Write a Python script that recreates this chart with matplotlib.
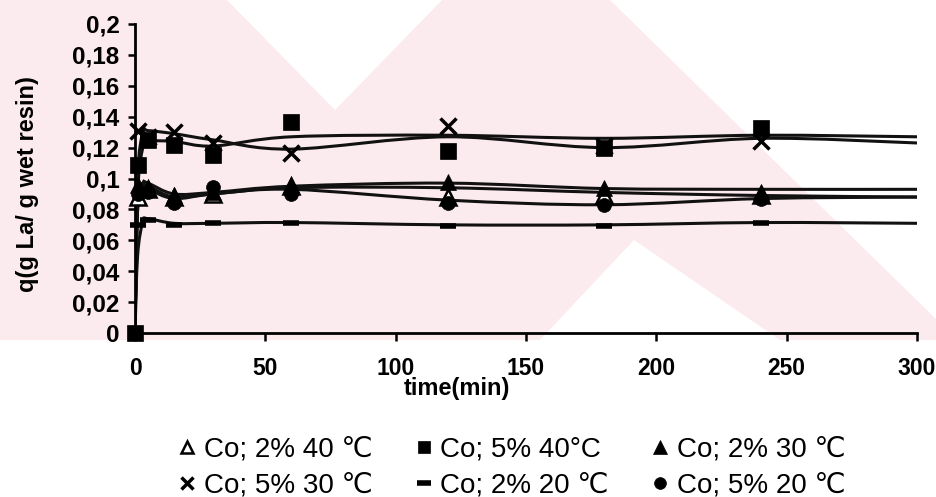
"""Uptake of La on Co-loaded resin versus contact time."""

import matplotlib

matplotlib.use("Agg")
import matplotlib.pyplot as plt
from matplotlib.lines import Line2D
from matplotlib.patches import PathPatch, Polygon, Rectangle
from matplotlib.path import Path
from matplotlib.ticker import FuncFormatter

W, H = 937, 497

# measured points
t_meas = [1, 5, 15, 30, 60, 120, 180, 240]
q_2pct_40 = [0.088, 0.093, 0.088, 0.090, 0.095, 0.088, 0.089, 0.089]
q_5pct_40 = [0.109, 0.125, 0.122, 0.115, 0.1366, 0.118, 0.120, 0.1327]
q_2pct_30 = [0.096, 0.094, 0.089, 0.091, 0.096, 0.098, 0.094, 0.091]
q_5pct_30 = [0.131, 0.127, 0.130, 0.123, 0.1165, 0.134, 0.121, 0.124]
q_2pct_20 = [0.070, 0.073, 0.070, 0.071, 0.0715, 0.069, 0.069, 0.071]
q_5pct_20 = [0.090, 0.091, 0.084, 0.0945, 0.090, 0.084, 0.083, 0.087]
t_zero = [0]
q_zero = [0.0]

# smoothed curves
t_curve = [0, 1, 3, 5, 15, 30, 60, 120, 180, 240, 300]
c_5pct_40 = [0, 0.090, 0.120, 0.124, 0.124, 0.121, 0.127, 0.128, 0.126, 0.128, 0.127]
c_5pct_30 = [0, 0.100, 0.130, 0.131, 0.129, 0.125, 0.119, 0.127, 0.120, 0.126, 0.123]
c_2pct_30 = [0, 0.085, 0.097, 0.097, 0.090, 0.091, 0.095, 0.097, 0.0935, 0.093, 0.093]
c_2pct_40 = [0, 0.080, 0.095, 0.095, 0.088, 0.090, 0.094, 0.094, 0.091, 0.089, 0.088]
c_5pct_20 = [0, 0.080, 0.093, 0.093, 0.087, 0.090, 0.093, 0.086, 0.083, 0.087, 0.088]
c_2pct_20 = [0, 0.050, 0.072, 0.074, 0.071, 0.071, 0.0715, 0.070, 0.070, 0.0715, 0.071]

labels = ["Co; 2% 40 \u2103", "Co; 5% 40\u00b0C", "Co; 2% 30 \u2103",
          "Co; 5% 30 \u2103", "Co; 2% 20 \u2103", "Co; 5% 20 \u2103"]

styles = [
    dict(marker="^", ms=11, mfc="white", mec="black", mew=1.8),
    dict(marker="s", ms=11, mfc="black", mec="black", mew=0.5),
    dict(marker="^", ms=12, mfc="black", mec="black", mew=0.5),
    dict(marker="x", ms=11, mfc="black", mec="black", mew=2.5),
    dict(marker="_", ms=12, mfc="black", mec="black", mew=4),
    dict(marker="o", ms=10, mfc="black", mec="black", mew=0.5),
]


def smooth_path(x, y):
    # Catmull-Rom segments written as cubic Bezier pieces
    pts = list(zip(x, y))
    verts = [pts[0]]
    codes = [Path.MOVETO]
    n = len(pts)
    for i in range(n - 1):
        p0 = pts[max(i - 1, 0)]
        p1 = pts[i]
        p2 = pts[i + 1]
        p3 = pts[min(i + 2, n - 1)]
        c1 = (p1[0] + (p2[0] - p0[0]) / 6, p1[1] + (p2[1] - p0[1]) / 6)
        c2 = (p2[0] - (p3[0] - p1[0]) / 6, p2[1] - (p3[1] - p1[1]) / 6)
        verts += [c1, c2, p2]
        codes += [Path.CURVE4] * 3
    return Path(verts, codes)


def px(points):
    return [(x / W, 1 - y / H) for x, y in points]


plt.rcParams["font.family"] = ["Liberation Sans", "DejaVu Sans"]
fig = plt.figure(figsize=(W / 100, H / 100), dpi=100)

# faint background stamp
pink = "#fcebee"
fig.add_artist(Rectangle((0, 1 - 340 / H), 1, 340 / H, transform=fig.transFigure,
                         facecolor=pink, edgecolor="none", zorder=0))
for shape in ([(227, 0), (442, 0), (335, 110)],
              [(540, 340), (780, 340), (634, 240)],
              [(610, 0), (937, 0), (937, 320)]):
    fig.add_artist(Polygon(px(shape), closed=True, transform=fig.transFigure,
                           facecolor="white", edgecolor="none", zorder=0))

ax = fig.add_axes([135 / W, 1 - 333 / H, 782 / W, 309 / H])
ax.patch.set_facecolor("none")

for curve in (c_2pct_40, c_5pct_40, c_2pct_30, c_5pct_30, c_2pct_20, c_5pct_20):
    ax.add_patch(PathPatch(smooth_path(t_curve, curve), facecolor="none",
                           edgecolor="#111111", lw=2.2, zorder=2))

series = [q_2pct_40, q_5pct_40, q_2pct_30, q_5pct_30, q_2pct_20, q_5pct_20]
for q, st in zip(series, styles):
    ax.plot(t_meas, q, ls="none", zorder=3, clip_on=False, **st)
ax.plot(t_zero, q_zero, ls="none", zorder=3, clip_on=False, **styles[1])

ax.set_xlim(0, 300)
ax.set_ylim(0, 0.2)
ax.set_xticks(range(0, 301, 50))
ax.set_yticks([i * 0.02 for i in range(11)])
ax.yaxis.set_major_formatter(FuncFormatter(lambda v, _: ("%g" % round(v, 2)).replace(".", ",")))
for side in ("top", "right"):
    ax.spines[side].set_visible(False)
for side in ("left", "bottom"):
    ax.spines[side].set_linewidth(2)
ax.tick_params(axis="x", direction="out", length=6, width=1.8, pad=11, labelsize=16.5)
ax.tick_params(axis="y", direction="out", length=5, width=1.8, pad=6, labelsize=17.5)
for lab in ax.get_xticklabels() + ax.get_yticklabels():
    lab.set_fontweight("bold")

ax.set_xlabel("time(min)", fontsize=17, fontweight="bold")
ax.xaxis.set_label_coords((457 - 135) / 782, (333 - 389) / 309)
ax.xaxis.label.set_va("center")
ax.set_ylabel("q(g La/ g wet resin)", fontsize=17, fontweight="bold")
ax.yaxis.set_label_coords((27 - 135) / 782, (333 - 184) / 309)
ax.yaxis.label.set_va("center")

handles = []
for st in styles:
    small = dict(st)
    small["ms"] = st["ms"] * 0.85
    handles.append(Line2D([], [], ls="none", **small))
order = [0, 3, 1, 4, 2, 5]
fig.legend([handles[i] for i in order], [labels[i] for i in order],
           ncol=3, loc="center", bbox_to_anchor=(512 / W, 1 - 467.5 / H),
           frameon=False, fontsize=20, handlelength=0.6, handletextpad=0.3,
           columnspacing=1.55, labelspacing=0.38, borderpad=0)

fig.savefig("out.png", dpi=100)
